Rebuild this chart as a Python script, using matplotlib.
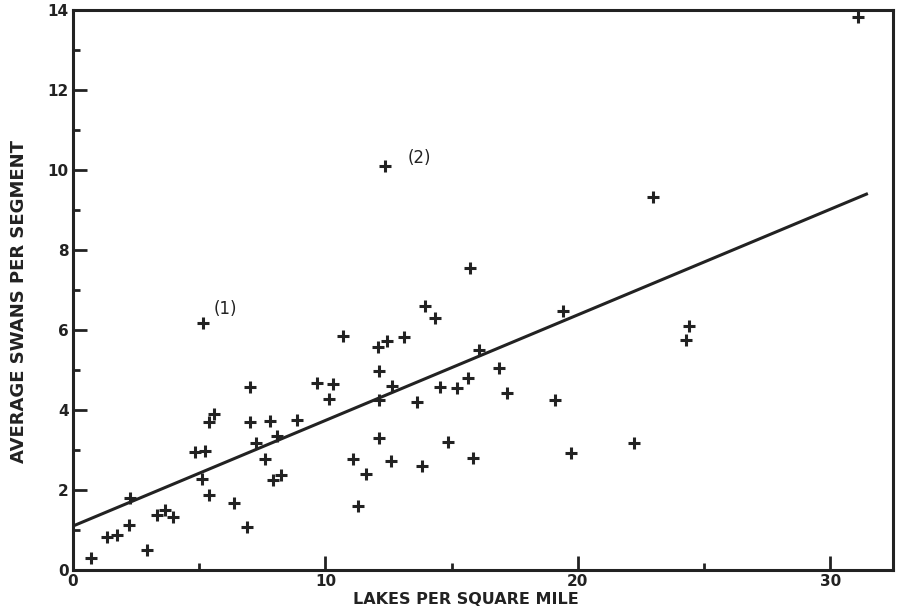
import matplotlib
matplotlib.use("Agg")
import matplotlib.pyplot as plt
from matplotlib.ticker import MultipleLocator

# lakes per square mile (x) and average swans per segment (y)
lakes = [0.70, 1.33, 1.73, 2.23, 2.26, 2.92, 3.31, 3.64, 3.97, 4.83,
         5.23, 5.10, 5.40, 5.40, 5.60, 6.38, 6.90, 7.01, 7.01, 7.25,
         7.60, 7.80, 8.07, 7.93, 8.22, 8.86, 9.65, 10.31, 10.15, 11.08,
         11.30, 10.68, 13.94, 14.34, 12.09, 12.45, 13.12, 12.12, 12.62, 12.12,
         13.61, 14.53, 15.23, 15.66, 16.08, 16.87, 17.18, 19.09, 19.42, 12.12,
         14.84, 12.59, 13.83, 15.85, 19.71, 11.59, 15.72, 22.98, 24.40, 24.28,
         22.23, 12.36, 5.16, 31.09]
swans = [0.29, 0.82, 0.87, 1.12, 1.79, 0.50, 1.37, 1.50, 1.32, 2.96,
         2.98, 2.28, 1.88, 3.71, 3.89, 1.68, 1.08, 4.58, 3.71, 3.17,
         2.78, 3.73, 3.35, 2.25, 2.37, 3.75, 4.67, 4.65, 4.27, 2.78,
         1.60, 5.85, 6.61, 6.31, 5.58, 5.73, 5.82, 4.98, 4.60, 4.25,
         4.19, 4.58, 4.54, 4.81, 5.50, 5.04, 4.42, 4.25, 6.48, 3.29,
         3.19, 2.72, 2.61, 2.81, 2.92, 2.40, 7.55, 9.33, 6.10, 5.75,
         3.18, 10.11, 6.17, 13.83]

# fitted regression line
intercept = 1.10
slope = 0.264
line_x = [0.0, 31.43]

# labelled outliers
notes = ["(1)", "(2)"]
note_x = [6.05, 13.72]
note_y = [6.52, 10.3]

ink = "#222222"

fig = plt.figure(figsize=(8.98, 6.13), dpi=100)
ax = fig.add_axes([0.0813, 0.0701, 0.9131, 0.9136])

ax.plot(lakes, swans, linestyle="none", marker="+", markersize=8.5,
        markeredgewidth=2.2, color=ink)
ax.plot(line_x, [intercept + slope * x for x in line_x], color=ink, lw=2.2)

for txt, x, y in zip(notes, note_x, note_y):
    ax.text(x, y, txt, fontsize=12, color=ink, ha="center", va="center")

ax.set_xlim(0, 32.48)
ax.set_ylim(0, 14)
ax.xaxis.set_major_locator(MultipleLocator(10))
ax.xaxis.set_minor_locator(MultipleLocator(5))
ax.yaxis.set_major_locator(MultipleLocator(2))
ax.yaxis.set_minor_locator(MultipleLocator(1))

ax.tick_params(which="major", direction="in", length=10, width=2, colors=ink,
               labelsize=11, pad=3)
ax.tick_params(which="minor", direction="in", length=5, width=2, colors=ink)
for lab in ax.get_xticklabels() + ax.get_yticklabels():
    lab.set_fontweight("bold")

for sp in ax.spines.values():
    sp.set_linewidth(2.2)
    sp.set_color(ink)

ax.set_xlabel("LAKES PER SQUARE MILE", fontsize=11.5, fontweight="bold", color=ink)
ax.xaxis.set_label_coords(0.479, -0.04)
ax.xaxis.label.set_va("top")
ax.set_ylabel("AVERAGE SWANS PER SEGMENT", fontsize=13, fontweight="bold", color=ink)
ax.yaxis.set_label_coords(-0.055, 0.48)

plt.savefig("out.png", dpi=100)
